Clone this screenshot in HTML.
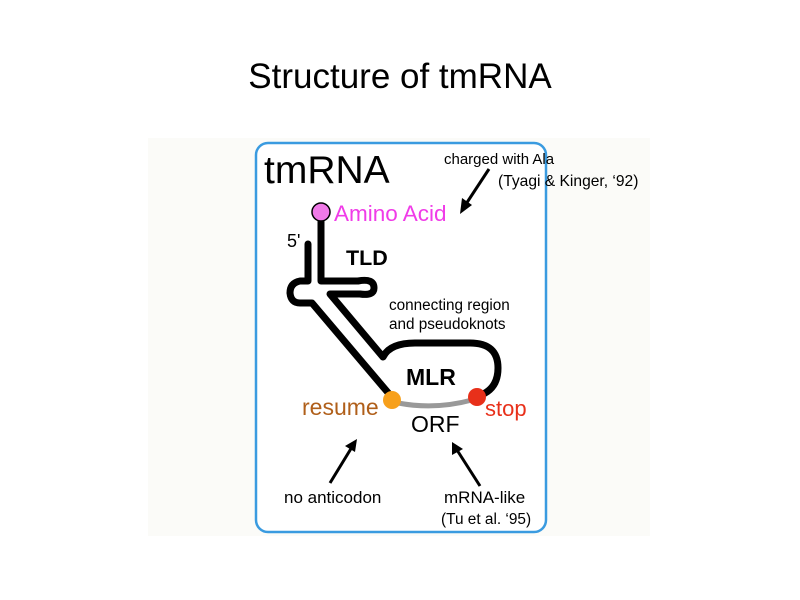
<!DOCTYPE html>
<html><head><meta charset="utf-8"><style>
html,body{margin:0;padding:0;background:#fff;}
svg{display:block;font-family:"Liberation Sans",Arial,sans-serif;}
</style></head><body>
<svg width="800" height="600" viewBox="0 0 800 600" xmlns="http://www.w3.org/2000/svg">
<rect width="800" height="600" fill="#fff"/>
<rect x="148" y="138" width="502" height="398" fill="#fbfbf8"/>
<text x="400" y="88" font-size="35" text-anchor="middle" fill="#000">Structure of tmRNA</text>
<rect x="256" y="143" width="290" height="389" rx="12" ry="12" fill="#fff" stroke="#3a9be0" stroke-width="2.5"/>
<text x="264" y="183" font-size="39" fill="#000">tmRNA</text>
<text x="444" y="164" font-size="15">charged with Ala</text>
<text x="498" y="186" font-size="15.6">(Tyagi &amp; Kinger, ‘92)</text>
<g stroke="#000" stroke-width="3" fill="none">
<line x1="489" y1="169" x2="466" y2="204"/>
<line x1="330" y1="483" x2="352" y2="447"/>
<line x1="480" y1="486" x2="457" y2="450"/>
</g>
<path d="M460,214 L462,198 L472,205 z" fill="#000"/>
<path d="M357,439 L345,446 L355,452 z" fill="#000"/>
<path d="M452,442 L452,455 L463,449 z" fill="#000"/>
<g stroke="#000" stroke-width="7" fill="none" stroke-linejoin="round" stroke-linecap="round">
<path d="M321,220 L321,281 L358,281 Q374,278 374,288 Q374,296 360,294 L330,294 L383,357 Q390,343 415,343 L470,343 Q498,343 498,368 Q498,390 478,396"/>
<path d="M308,244 L308,281 L300,281 Q290,283 290,293 Q291,303 300,303 L312,303 L390,395"/>
</g>
<path d="M398,403 Q435,410 472,400" stroke="#999" stroke-width="5" fill="none"/>
<circle cx="321" cy="212" r="9" fill="#f07ae8" stroke="#000" stroke-width="1.5"/>
<circle cx="392" cy="400" r="9" fill="#f7a01c"/>
<circle cx="477" cy="397" r="9" fill="#e8301a"/>
<text x="334" y="221" font-size="22.5" fill="#f03ce8">Amino Acid</text>
<text x="287" y="247" font-size="18" fill="#000">5'</text>
<text x="346" y="265" font-size="21.5" font-weight="bold" fill="#000">TLD</text>
<text x="389" y="310" font-size="15.3">connecting region</text>
<text x="389" y="329" font-size="15.3">and pseudoknots</text>
<text x="406" y="385" font-size="23" font-weight="bold">MLR</text>
<text x="302" y="415" font-size="23" fill="#b05f1a">resume</text>
<text x="485" y="416" font-size="22" fill="#e8301a">stop</text>
<text x="411" y="432" font-size="23">ORF</text>
<text x="284" y="503" font-size="17">no anticodon</text>
<text x="444" y="503" font-size="17">mRNA-like</text>
<text x="441" y="524" font-size="15.4">(Tu et al. ‘95)</text>
</svg>
</body></html>
